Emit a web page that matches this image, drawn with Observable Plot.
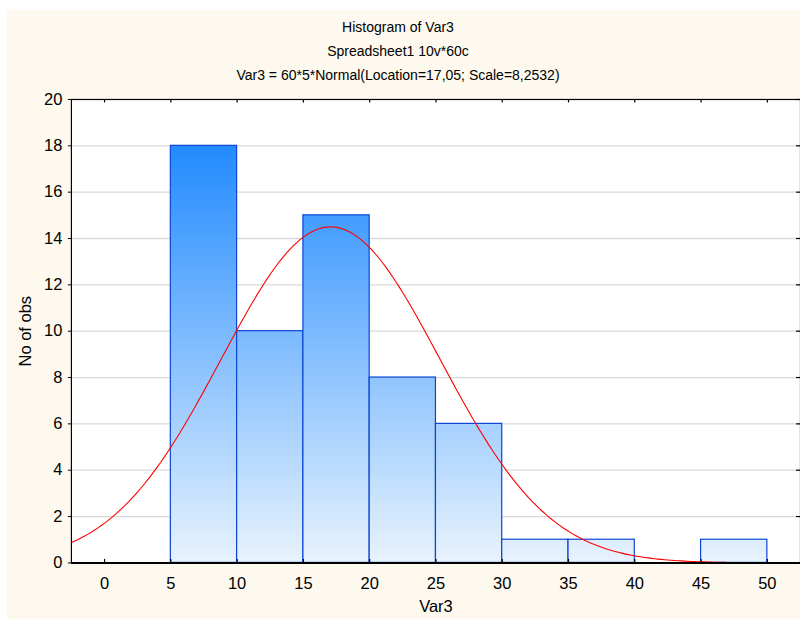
<!DOCTYPE html>
<html>
<head>
<meta charset="utf-8">
<script src="https://cdn.jsdelivr.net/npm/d3@7"></script>
<script src="https://cdn.jsdelivr.net/npm/@observablehq/plot@0.6"></script>
<style>
  html, body { margin: 0; padding: 0; background: #ffffff; overflow: hidden; }
  #page { position: relative; width: 800px; height: 619px; overflow: hidden; font-family: "Liberation Sans", Arial, sans-serif; }
  #panel { position: absolute; left: 7px; top: 10px; width: 800px; height: 620px; background: #fdf9ee; }
  .t { position: absolute; left: 0; width: 796px; text-align: center; font-size: 14px; line-height: 24px; color: #000; }
  #chart { position: absolute; left: 0; top: 88px; }
</style>
</head>
<body>
<div id="page">
  <div id="panel"></div>
  <div class="t" style="top:15px">Histogram of Var3</div>
  <div class="t" style="top:39px">Spreadsheet1 10v*60c</div>
  <div class="t" style="top:63px">Var3 = 60*5*Normal(Location=17,05; Scale=8,2532)</div>
  <div id="chart"></div>
</div>
<script>
// Histogram bins (Var3) and counts
const binStarts = [5, 10, 15, 20, 25, 30, 35, 40, 45];
const binEnds   = [10, 15, 20, 25, 30, 35, 40, 45, 50];
const counts    = [18, 10, 15, 8, 6, 1, 1, 0, 1];

// Axis ticks
const xTicks = [0, 5, 10, 15, 20, 25, 30, 35, 40, 45, 50];
const yTicks = [0, 2, 4, 6, 8, 10, 12, 14, 16, 18, 20];

// Fitted normal curve parameters as stated in the chart subtitle
const nObs = 60;
const binWidth = 5;
const fitLocation = 17.05;
const fitScale = 8.2532;
const xDomain = [-2.5, 52.5];

const bars = binStarts.map((s, i) => ({x1: s, x2: binEnds[i], count: counts[i]})).filter(d => d.count > 0);

const curve = d3.range(xDomain[0], xDomain[1] + 0.001, 0.25).map(x => ({
  x,
  y: nObs * binWidth * Math.exp(-0.5 * ((x - fitLocation) / fitScale) ** 2) / (fitScale * Math.sqrt(2 * Math.PI))
}));

const gradientDefs = (index, scales) => {
  const g = d3.create("svg:g");
  const lg = g.append("defs").append("linearGradient")
    .attr("id", "barGrad")
    .attr("gradientUnits", "userSpaceOnUse")
    .attr("x1", 0).attr("x2", 0)
    .attr("y1", scales.y(20)).attr("y2", scales.y(0));
  lg.append("stop").attr("offset", "0%").attr("stop-color", "#0c7fff");
  lg.append("stop").attr("offset", "100%").attr("stop-color", "#e8f3fd");
  return g.node();
};

const plot = Plot.plot({
  width: 801,
  height: 531,
  marginTop: 11,
  marginBottom: 56,
  marginLeft: 71,
  marginRight: 0,
  style: {fontSize: "16.5px", fontFamily: "'Liberation Sans', Arial, sans-serif", background: "transparent", color: "#000"},
  x: {domain: xDomain},
  y: {domain: [0, 20]},
  marks: [
    gradientDefs,
    Plot.frame({fill: "white", stroke: "none"}),
    Plot.ruleY(yTicks.filter(d => d > 0 && d < 20), {stroke: "#d9d9d9", strokeWidth: 1.3}),
    Plot.rectY(bars, {x1: "x1", x2: "x2", y: "count", fill: "url(#barGrad)", stroke: "#0b45d6", strokeWidth: 1.2}),
    Plot.line(curve, {x: "x", y: "y", stroke: "#ff0000", strokeWidth: 1.1, clip: true}),
    Plot.frame({stroke: "#000", strokeWidth: 1.2}),
    Plot.ruleY([0], {stroke: "#000", strokeWidth: 2}),
    Plot.ruleX(xTicks, {x: d => d, y1: 0, y2: 0.15, stroke: "#000", strokeWidth: 1.2}),
    Plot.ruleX(xTicks, {x: d => d, y1: 20, y2: 19.85, stroke: "#000", strokeWidth: 1.2}),
    Plot.ruleY(yTicks, {y: d => d, x1: 52.5, x2: 52.2, stroke: "#000", strokeWidth: 1.2}),
    Plot.axisY(yTicks, {tickSize: 3, tickPadding: 6, label: null, stroke: "#000", fontSize: 16.5}),
    Plot.axisX(xTicks, {tickSize: 0, tickPadding: 14, label: null, fontSize: 16.5}),
    Plot.text(["Var3"], {frameAnchor: "bottom", dy: 44, lineAnchor: "middle", textAnchor: "middle", fill: "#000", fontSize: 16.5}),
    Plot.text(["No of obs"], {frameAnchor: "left", dx: -46, rotate: -90, textAnchor: "middle", lineAnchor: "middle", fill: "#000", fontSize: 16.5})
  ]
});
document.getElementById("chart").appendChild(plot);
</script>
</body>
</html>
